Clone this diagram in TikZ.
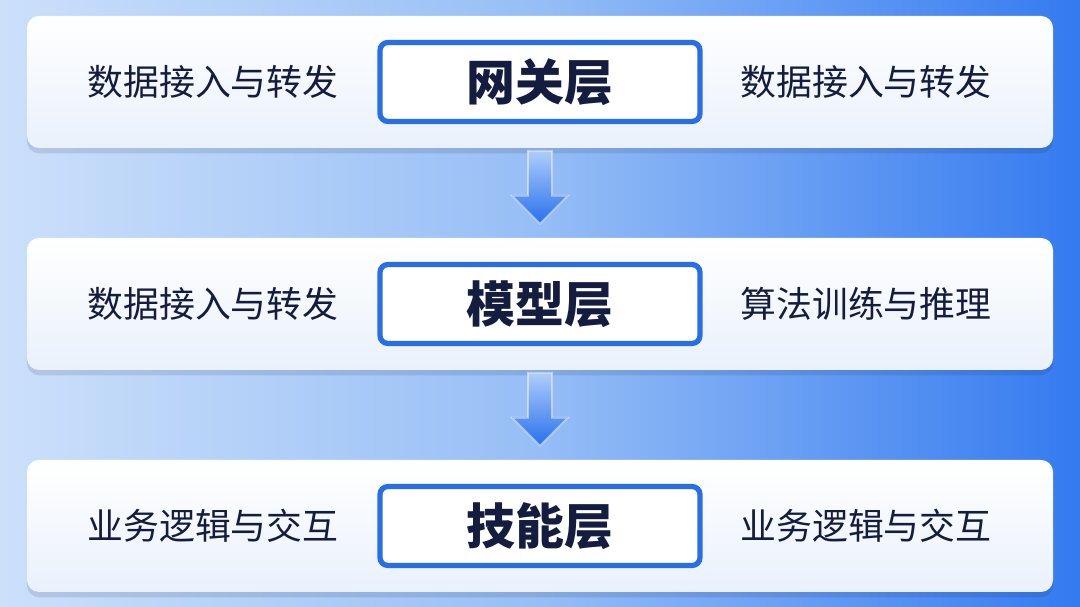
\documentclass[tikz,border=0pt]{standalone}
\usepackage{fontspec}
\newfontfamily\cjk{Noto Sans CJK SC}
\usetikzlibrary{calc,shadows}
\definecolor{bgleft}{RGB}{204,224,250}
\definecolor{bgmid}{RGB}{150,190,246}
\definecolor{bgright}{RGB}{52,122,240}
\definecolor{panelbot}{RGB}{234,241,251}
\definecolor{edgeblue}{RGB}{40,110,228}
\definecolor{inkblue}{RGB}{20,28,64}
\definecolor{arrowtop}{RGB}{175,205,250}
\definecolor{arrowbot}{RGB}{40,112,236}

\begin{document}
\begin{tikzpicture}[
    panel/.style={rectangle, rounded corners=0.12cm, minimum width=10.26cm,
      minimum height=1.32cm, top color=white, bottom color=panelbot,
      draw=none, drop shadow={shadow xshift=0pt, shadow yshift=-1.5pt,
      opacity=0.12, fill=inkblue}},
    layerbox/.style={rectangle, rounded corners=0.08cm, minimum width=3.2cm,
      minimum height=0.79cm, fill=white, draw=edgeblue, line width=1.5pt,
      font=\cjk\bfseries\fontsize{13.9}{16}\selectfont, text=inkblue},
    sidelabel/.style={font=\cjk\fontsize{10.2}{12}\selectfont, text=inkblue},
    flowarrow/.style={top color=arrowtop, bottom color=arrowbot,
      draw=white, draw opacity=0.5, line width=0.5pt}
  ]
    \useasboundingbox (0,0) rectangle (10.8,6.07);
    % Background
    \shade[left color=bgleft, right color=bgright, middle color=bgmid]
      (0,0) rectangle (10.8,6.07);

    % Layers
    \node[panel] (p1) at (5.40,5.25) {};
    \node[panel] (p2) at (5.40,3.03) {};
    \node[panel] (p3) at (5.40,0.81) {};

    \node[layerbox] (gw) at (p1.center) {网关层};
    \node[layerbox] (md) at (p2.center) {模型层};
    \node[layerbox] (sk) at (p3.center) {技能层};

    \node[sidelabel] (gwl) at (2.13,5.25) {数据接入与转发};
    \node[sidelabel] (gwr) at (8.66,5.25) {数据接入与转发};
    \node[sidelabel] (mdl) at (2.13,3.03) {数据接入与转发};
    \node[sidelabel] (mdr) at (8.66,3.03) {算法训练与推理};
    \node[sidelabel] (skl) at (2.13,0.81) {业务逻辑与交互};
    \node[sidelabel] (skr) at (8.66,0.81) {业务逻辑与交互};

    % Arrows
    \coordinate (a1) at ($(p1.south)+(0,-0.02)$);
    \coordinate (a2) at ($(p2.south)+(0,-0.02)$);
    \foreach \a in {a1,a2}
      \filldraw[flowarrow] (\a) ++(-0.12,0) -- ++(0,-0.45) -- ++(-0.16,0)
        -- ++(0.28,-0.28) -- ++(0.28,0.28) -- ++(-0.16,0) -- ++(0,0.45) -- cycle;
  \end{tikzpicture}
\end{document}
